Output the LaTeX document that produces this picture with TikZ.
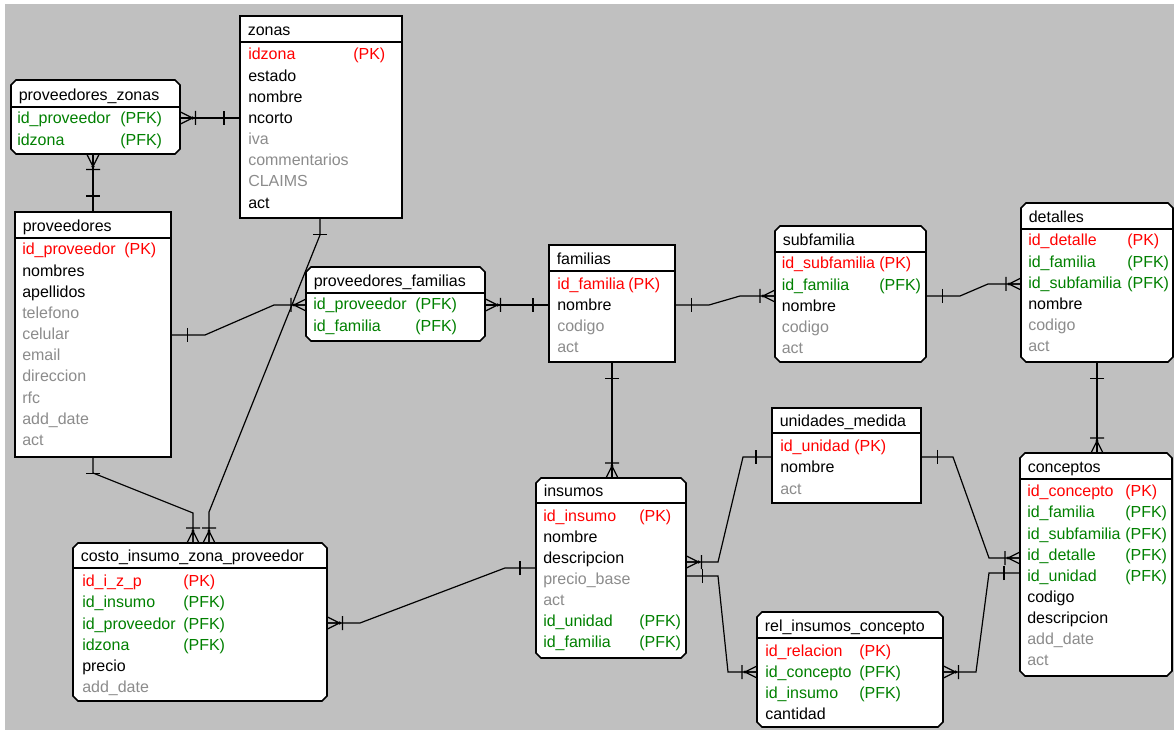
\documentclass[tikz,border=0pt]{standalone}
\usepackage{fontspec}
\setmainfont{Liberation Sans}
\definecolor{bg}{RGB}{192,192,192}
\definecolor{pk}{RGB}{255,0,0}
\definecolor{fk}{RGB}{0,128,0}
\definecolor{opt}{RGB}{140,140,140}
\definecolor{txt}{RGB}{0,0,0}
\tikzset{
  entbox/.style={rectangle, draw=none, inner sep=0pt, anchor=north west},
  entline/.style={line width=1.2pt, draw=black, fill=white, line join=miter},
  attr/.style={anchor=base west, inner sep=0pt, font=\fontsize{12pt}{14pt}\selectfont},
  conn/.style={line width=0.9pt, draw=black},
  one/.pic={\draw[conn] (16,-7) -- (16,7);},
  many/.pic={\draw[conn] (0,-6) -- (12,0) -- (0,6) (0,0) -- (12,0) (15,-7) -- (15,7);
             \fill[black] (12,0) circle[radius=1.3pt];}
}
\newcommand{\entity}[8]{%
  \ifnum#2=0
    \draw[entline] (#3,#4) rectangle (#5,#6);
  \else
    \draw[entline] (#3+#2,#4) -- (#5-#2,#4) -- (#5,#4+#2) -- (#5,#6-#2) -- (#5-#2,#6) -- (#3+#2,#6) -- (#3,#6-#2) -- (#3,#4+#2) -- cycle;
  \fi
  \node[entbox, minimum width={(#5-#3)*0.75pt}, minimum height={(#6-#4)*0.75pt}] (#1) at (#3,#4) {};
  \draw[line width=1.2pt] (#1.west |- 0,#7) -- (#1.east |- 0,#7);
  \node[attr] (#1-title) at (#3+7.5,#7-6.5) {#8};
}
\newcommand{\rows}[5]{%
  \foreach \rc/\rn/\rk [count=\ri] in {#5} {
    \node[attr, text=\rc] (#1-n\ri) at (#2,{#4+21.15*(\ri-1)}) {\rn};
    \ifx\rk\empty\else
      \node[attr, text=\rc] (#1-k\ri) at (#3,{#4+21.15*(\ri-1)}) {\rk};
    \fi
  }
}
\begin{document}
\begin{tikzpicture}[x=0.75pt, y=-0.75pt]
\useasboundingbox (0,0) rectangle (1174,730);
\fill[white] (0,0) rectangle (1174,730);
\fill[bg] (5,4) rectangle (1174,730);

% entities
\entity{zonas}{0}{240}{16}{402}{218}{42}{zonas}
\entity{pz}{5}{11}{80}{180}{154}{107}{proveedores\_zonas}
\entity{prov}{0}{15}{212}{171}{457}{238}{proveedores}
\entity{pf}{5}{306}{267}{485}{341}{293}{proveedores\_familias}
\entity{fam}{0}{549}{245}{675}{362}{271}{familias}
\entity{sub}{5}{775}{226}{926}{362}{252}{subfamilia}
\entity{det}{5}{1021}{203}{1173}{362}{229}{detalles}
\entity{um}{0}{772}{408}{921}{503}{433}{unidades\_medida}
\entity{ins}{5}{536}{478}{686}{658}{503}{insumos}
\entity{ric}{5}{757}{612}{943}{727}{638}{rel\_insumos\_concepto}
\entity{con}{5}{1020}{453}{1172}{676}{479}{conceptos}
\entity{cizp}{5}{73}{543}{327}{701}{568}{costo\_insumo\_zona\_proveedor}

% attributes
\rows{zonas}{248}{353}{60}{pk/idzona/(PK),txt/estado/,txt/nombre/,txt/ncorto/,opt/iva/,opt/commentarios/,opt/CLAIMS/,txt/act/}
\rows{pz}{17}{120}{124}{fk/id\_proveedor/(PFK),fk/idzona/(PFK)}
\rows{prov}{22}{124}{255}{pk/id\_proveedor/(PK),txt/nombres/,txt/apellidos/,opt/telefono/,opt/celular/,opt/email/,opt/direccion/,opt/rfc/,opt/add\_date/,opt/act/}
\rows{pf}{313}{415}{310}{fk/id\_proveedor/(PFK),fk/id\_familia/(PFK)}
\rows{fam}{557}{628}{289.3}{pk/id\_familia/(PK),txt/nombre/,opt/codigo/,opt/act/}
\rows{sub}{781.5}{879}{269}{pk/id\_subfamilia/(PK),fk/id\_familia/(PFK),txt/nombre/,opt/codigo/,opt/act/}
\rows{det}{1028}{1127}{246}{pk/id\_detalle/(PK),fk/id\_familia/(PFK),fk/id\_subfamilia/(PFK),txt/nombre/,opt/codigo/,opt/act/}
\rows{um}{780}{854}{451.7}{pk/id\_unidad/(PK),txt/nombre/,opt/act/}
\rows{ins}{543}{639}{521}{pk/id\_insumo/(PK),txt/nombre/,txt/descripcion/,opt/precio\_base/,opt/act/,fk/id\_unidad/(PFK),fk/id\_familia/(PFK)}
\rows{ric}{765}{859}{656}{pk/id\_relacion/(PK),fk/id\_concepto/(PFK),fk/id\_insumo/(PFK),txt/cantidad/}
\rows{con}{1027}{1125}{496.7}{pk/id\_concepto/(PK),fk/id\_familia/(PFK),fk/id\_subfamilia/(PFK),fk/id\_detalle/(PFK),fk/id\_unidad/(PFK),txt/codigo/,txt/descripcion/,opt/add\_date/,opt/act/}
\rows{cizp}{82}{183}{586.7}{pk/id\_i\_z\_p/(PK),fk/id\_insumo/(PFK),fk/id\_proveedor/(PFK),fk/idzona/(PFK),txt/precio/,opt/add\_date/}

% connectors
% zonas - proveedores_zonas
\draw[conn] (zonas.west |- 0,118) -- (pz.east |- 0,118);
\pic[rotate=180] at (zonas.west |- 0,118) {one};
\pic at (pz.east |- 0,118) {many};
% proveedores - proveedores_zonas
\draw[conn] (pz.south -| 93,0) -- (prov.north -| 93,0);
\pic[rotate=-90] at (pz.south -| 93,0) {many};
\pic[rotate=90] at (prov.north -| 93,0) {one};
% zonas - costo
\draw[conn] (zonas.south -| 320,0) -- (320,235) -- (209,512) -- (cizp.north -| 209,0);
\pic[rotate=-90] at (zonas.south -| 320,0) {one};
\pic[rotate=90] at (cizp.north -| 209,0) {many};
% proveedores - costo
\draw[conn] (prov.south -| 93,0) -- (93,473) -- (193,513) -- (cizp.north -| 193,0);
\pic[rotate=-90] at (prov.south -| 93,0) {one};
\pic[rotate=90] at (cizp.north -| 193,0) {many};
% proveedores - proveedores_familias
\draw[conn] (prov.east |- 0,335) -- (205,335) -- (274,305) -- (pf.west |- 0,305);
\pic at (prov.east |- 0,335) {one};
\pic[rotate=180] at (pf.west |- 0,305) {many};
% proveedores_familias - familias
\draw[conn] (pf.east |- 0,305) -- (fam.west |- 0,305);
\pic at (pf.east |- 0,305) {many};
\pic[rotate=180] at (fam.west |- 0,305) {one};
% familias - subfamilia
\draw[conn] (fam.east |- 0,305) -- (709,305) -- (740,296) -- (sub.west |- 0,296);
\pic at (fam.east |- 0,305) {one};
\pic[rotate=180] at (sub.west |- 0,296) {many};
% subfamilia - detalles
\draw[conn] (sub.east |- 0,296) -- (960,296) -- (988,284) -- (det.west |- 0,284);
\pic at (sub.east |- 0,296) {one};
\pic[rotate=180] at (det.west |- 0,284) {many};
% familias - insumos
\draw[conn] (fam.south -| 612,0) -- (ins.north -| 612,0);
\pic[rotate=-90] at (fam.south -| 612,0) {one};
\pic[rotate=90] at (ins.north -| 612,0) {many};
% detalles - conceptos
\draw[conn] (det.south -| 1097,0) -- (con.north -| 1097,0);
\pic[rotate=-90] at (det.south -| 1097,0) {one};
\pic[rotate=90] at (con.north -| 1097,0) {many};
% insumos - unidades_medida
\draw[conn] (ins.east |- 0,562) -- (718,562) -- (743,457) -- (um.west |- 0,457);
\pic at (ins.east |- 0,562) {many};
\pic[rotate=180] at (um.west |- 0,457) {one};
% insumos - rel_insumos_concepto
\draw[conn] (ins.east |- 0,576) -- (718,576) -- (728,672) -- (ric.west |- 0,672);
\pic at (ins.east |- 0,576) {one};
\pic[rotate=180] at (ric.west |- 0,672) {many};
% unidades_medida - conceptos
\draw[conn] (um.east |- 0,457) -- (953,457) -- (989,558) -- (con.west |- 0,558);
\pic at (um.east |- 0,457) {one};
\pic[rotate=180] at (con.west |- 0,558) {many};
% rel_insumos_concepto - conceptos
\draw[conn] (ric.east |- 0,672) -- (976,672) -- (989,573) -- (con.west |- 0,573);
\pic at (ric.east |- 0,672) {many};
\pic[rotate=180] at (con.west |- 0,573) {one};
% insumos - costo
\draw[conn] (ins.west |- 0,568) -- (505,568) -- (360,623) -- (cizp.east |- 0,623);
\pic[rotate=180] at (ins.west |- 0,568) {one};
\pic at (cizp.east |- 0,623) {many};
\end{tikzpicture}
\end{document}
